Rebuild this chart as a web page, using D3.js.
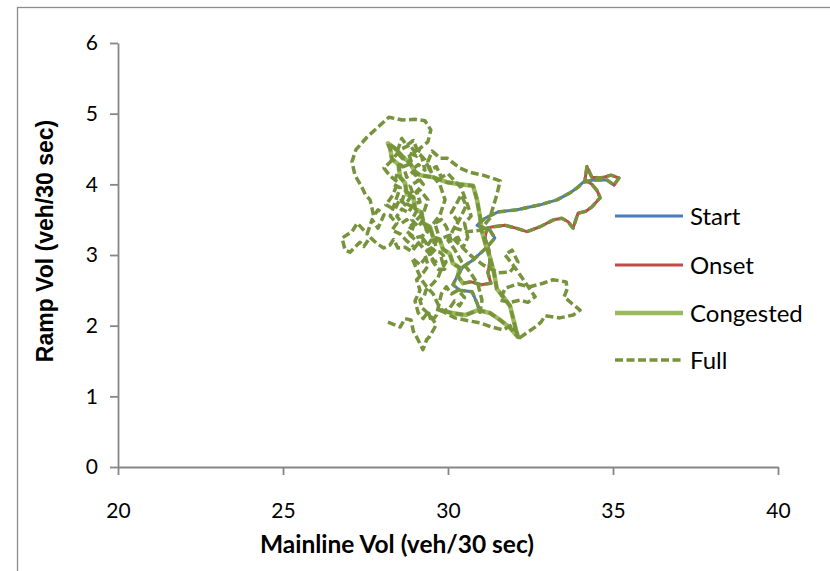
<!DOCTYPE html>
<html>
<head>
<meta charset="utf-8">
<script src="https://cdn.jsdelivr.net/npm/d3@7"></script>
<style>
  body { margin: 0; background: #fff; }
  svg { display: block; }
</style>
</head>
<body>
<svg id="chart" width="830" height="571"></svg>
<script>
// Axis ticks
const xTicks = [20, 25, 30, 35, 40];
const yTicks = [0, 1, 2, 3, 4, 5, 6];

// Legend entries, in drawing order
const seriesNames = ["Start", "Onset", "Congested", "Full"];

// [mainline vol, ramp vol] pairs, veh/30 sec
const fullLead = [
  [28.18,2.05],[28.55,1.98],[28.70,2.10],[28.88,2.08],[28.95,1.92],[29.06,1.83],[29.24,1.66],
  [29.35,1.80],[29.45,1.85],[29.64,2.01],[29.50,2.12],[29.36,2.19],[29.22,2.25],[29.15,2.36],
  [29.28,2.42],[29.33,2.50],[29.55,2.60],[29.70,2.68],[29.76,2.76],[29.94,2.90],[29.85,3.00],
  [29.76,3.04],[29.45,3.07],[29.30,3.20],[29.09,3.16],[28.90,3.05],[28.70,3.11],[28.48,3.10],
  [28.35,3.22],[28.24,3.14],[28.05,3.10],[27.85,3.16],[27.64,3.25],[27.45,3.12],[27.33,3.18],
  [27.03,3.04],[26.88,3.07],[26.79,3.24],[27.09,3.33],[27.25,3.45],[27.39,3.38],[27.55,3.30],
  [27.70,3.50],[27.88,3.38],[28.06,3.57],[27.88,3.64],[27.75,3.55],[27.64,3.78],[27.50,3.85],
  [27.39,3.96],[27.18,4.13],[27.09,4.32],[27.21,4.49],[27.55,4.67],[27.88,4.81],[28.21,4.95],
  [28.61,4.91],[29.00,4.92],[29.30,4.90],[29.48,4.77],[29.39,4.60],[29.15,4.51],
  [29.05,4.40],[28.80,4.45],[28.90,4.30],[28.65,4.25],[28.75,4.10],[28.95,4.18],[29.10,4.05],
  [28.85,3.98],[28.95,3.85],[28.70,3.90],[28.60,3.75],[28.85,3.70],[29.05,3.62],[28.90,3.50],
  [29.10,3.40],[29.25,3.50],[29.35,3.35],[29.20,3.25],[29.40,3.15],[29.55,3.25],[29.65,3.10],
  [29.45,3.00],[29.60,2.90],[29.80,2.95],[29.90,2.80],[29.70,2.80],[29.55,2.90],[29.40,3.05],
  [29.25,3.10],[29.05,3.20],[28.85,3.28],[28.95,3.40],[28.75,3.50],[28.60,3.45],[28.45,3.55],
  [28.60,3.65],[28.80,3.60],[28.95,3.72],[29.15,3.75],[29.05,3.90],[29.25,4.00],[29.05,4.12],
  [28.90,4.20],[29.10,4.28],[29.30,4.20],[29.20,4.40],[29.00,4.45],
  [28.85,4.56],[28.55,4.49],[28.30,4.34],[28.06,4.23],[28.24,4.12],[28.48,4.03],[28.33,3.85],
  [28.12,3.71],[28.39,3.64],[28.55,3.80],[28.70,3.71],[28.91,3.85],[29.15,3.92],[29.39,3.78],
  [29.27,3.61],[29.00,3.47],[28.76,3.33],[29.00,3.24],[29.30,3.28],[29.52,3.42],[29.76,3.57],
  [29.91,3.78],[29.76,3.99],[29.52,4.13],[29.39,4.32],[29.52,4.47],[29.76,4.37],[29.97,4.37],
  [30.36,4.23],[30.67,4.17],[31.06,4.13],[31.58,4.05],[31.48,3.85],[31.36,3.67],[31.27,3.52],
  [30.97,3.35],[30.58,3.33],[30.21,3.38],
  [30.40,3.55],[30.55,3.70],[30.40,3.85],[30.25,3.72],[30.10,3.60],[30.30,3.48],[30.15,3.35],
  [30.00,3.21],[30.21,3.07],[30.42,2.90],[30.67,2.76],[30.91,2.58],[31.03,2.36],[30.97,2.19]
];

const startPts = [
  [30.97,2.19],[30.88,2.32],[30.73,2.48],[30.36,2.50],[30.15,2.58],[30.27,2.69],[30.45,2.83],
  [30.76,2.93],[31.18,3.11],[31.42,3.24],[31.27,3.35],[30.88,3.42],[31.12,3.52],[31.52,3.61],
  [32.09,3.64],[32.79,3.71],[33.30,3.78],[33.70,3.88],[33.94,3.96],[34.09,4.03],[34.39,4.06],
  [34.82,4.06],[35.03,3.99]
];

const onsetPts = [
  [35.03,3.99],[35.18,4.09],[34.94,4.13],[34.64,4.09],[34.36,4.10],[34.21,4.25],[34.15,4.06],
  [34.36,4.00],[34.52,3.91],[34.61,3.81],[34.36,3.68],[34.18,3.62],[33.94,3.59],[33.79,3.38],
  [33.64,3.47],[33.45,3.52],[33.21,3.50],[32.79,3.40],[32.39,3.33],[32.06,3.38],[31.73,3.42],
  [31.36,3.40],[31.18,3.38],[31.12,3.24],[31.24,3.07],[31.27,2.90],[31.21,2.75],[31.30,2.60],
  [31.00,2.58],[30.70,2.62],[30.45,2.60]
];

const congestedPts = [
  [30.45,2.60],[30.30,2.70],[30.35,2.82],[30.15,2.88],[30.05,3.02],[29.85,3.08],[29.75,3.22],
  [29.55,3.25],[29.45,3.40],[29.25,3.45],[29.20,3.60],[29.00,3.66],[28.95,3.82],[28.75,3.86],
  [28.70,4.02],[28.55,4.10],[28.50,4.28],[28.30,4.36],[28.25,4.50],[28.18,4.58],[28.39,4.51],
  [28.61,4.40],[28.85,4.30],[29.00,4.18],[29.15,4.13],[29.55,4.10],[29.97,4.03],[30.36,4.00],
  [30.76,3.98],[30.88,3.78],[30.97,3.54],[31.03,3.33],[31.15,3.13],[31.27,2.97],[31.39,2.76],
  [31.48,2.52],[31.67,2.41],[31.88,2.28],[31.97,2.11],[32.06,1.94],[32.12,1.84],[31.88,1.97],
  [31.58,2.08],[31.27,2.18],[30.91,2.22],[30.52,2.15],[30.12,2.18],[29.76,2.22]
];

const fullTail = [
  [29.76,2.22],[30.21,2.11],[30.61,2.07],[30.97,2.04],[31.33,1.98],[31.67,1.94],[31.94,2.01],
  [32.18,1.83],[32.39,1.90],[32.64,1.98],[32.82,2.05],[32.94,2.14],[33.39,2.11],[33.79,2.15],
  [34.00,2.22],[33.76,2.31],[33.52,2.41],[33.61,2.52],[33.58,2.62],[33.18,2.65],[32.88,2.60],
  [32.48,2.55],[32.12,2.59],[31.73,2.53],[31.58,2.36],[31.88,2.33],[32.18,2.36],[32.42,2.33],
  [32.64,2.41],[32.18,2.72],[31.97,2.86],[31.73,3.00],[31.94,3.07],[32.12,2.90],[31.88,2.76],
  [31.52,2.75],[31.06,2.86],[30.67,3.00],[30.36,3.14],[30.06,3.28],[29.67,3.21],[29.39,3.00],
  [29.15,2.86],[28.91,2.96],[29.05,2.80],[29.20,2.65],[29.35,2.55],[29.55,2.45],[29.70,2.30],
  [29.85,2.20],[30.05,2.25],[30.20,2.35],[30.35,2.28],[30.50,2.40],[30.30,2.50],[30.10,2.45],
  [29.95,2.55],[29.80,2.45],[29.65,2.15],[29.50,2.05],[29.40,2.20],[29.25,2.10],[29.10,2.18],
  [29.00,2.35],[29.15,2.50],[29.05,2.65],[29.25,2.75],[29.40,2.85],[29.30,3.00],[29.50,3.10],
  [29.70,3.30],[29.60,3.45],[29.80,3.50],[29.95,3.40],[30.10,3.20],[30.30,3.25],[30.45,3.10],
  [30.60,3.25],[30.50,3.45],[30.70,3.55],[30.60,3.70],[30.40,3.95],[30.20,4.05],[30.00,4.15],
  [29.80,4.10],[29.65,4.25],[29.45,4.20],[29.30,4.35],[29.10,4.45],[28.95,4.62],[28.75,4.55],
  [28.60,4.65],[28.45,4.45],[28.65,4.35],[28.50,4.20],[28.35,4.00],[28.55,3.95],[28.40,3.75],
  [28.25,3.55],[28.45,3.45],[28.30,3.35],[28.55,3.30],[28.75,3.20],[28.95,3.12]
];

// The full run is the lead-in, the three phases, and the trailing part, joined end to end
const fullPts = fullLead.concat(
  startPts.slice(1), onsetPts.slice(1), congestedPts.slice(1), fullTail.slice(1)
);

const styles = {
  Start:     { color: "#4A7EBB", width: 3,   dash: null },
  Onset:     { color: "#BE4B48", width: 3,   dash: null },
  Congested: { color: "#9BBB59", width: 4.5, dash: null },
  Full:      { color: "#77933C", width: 3.5, dash: "8,3.5" }
};
const seriesData = { Start: startPts, Onset: onsetPts, Congested: congestedPts, Full: fullPts };

const svg = d3.select("#chart");

// Outer chart frame
svg.append("rect")
  .attr("x", 17.5).attr("y", 7.5)
  .attr("width", 830).attr("height", 580)
  .attr("fill", "#fff")
  .attr("stroke", "#8c8c8c").attr("stroke-width", 1.3);

const x = d3.scaleLinear().domain([20, 40]).range([118, 778]);
const y = d3.scaleLinear().domain([0, 6]).range([467, 43]);

const tickFont = "Lato, 'Open Sans', sans-serif";
const axisColor = "#868686";

const xAxis = svg.append("g")
  .attr("transform", "translate(0,467)")
  .call(d3.axisBottom(x).tickValues(xTicks).tickFormat(d3.format("d"))
    .tickSize(8).tickSizeOuter(0).tickPadding(28));

const yAxis = svg.append("g")
  .attr("transform", "translate(118,0)")
  .call(d3.axisLeft(y).tickValues(yTicks).tickFormat(d3.format("d"))
    .tickSize(8).tickSizeOuter(0).tickPadding(12));

[xAxis, yAxis].forEach(g => {
  g.select(".domain").attr("stroke", axisColor).attr("stroke-width", 1.8);
  g.selectAll(".tick line").attr("stroke", axisColor).attr("stroke-width", 1.8);
  g.selectAll(".tick text")
    .attr("fill", "#000")
    .style("font-family", tickFont)
    .style("font-size", "21px");
});

// Series lines
const line = d3.line().x(d => x(d[0])).y(d => y(d[1]));
const plot = svg.append("g");
seriesNames.forEach(name => {
  const s = styles[name];
  plot.append("path")
    .datum(seriesData[name])
    .attr("d", line)
    .attr("fill", "none")
    .attr("stroke", s.color)
    .attr("stroke-width", s.width)
    .attr("stroke-linejoin", "round")
    .attr("stroke-linecap", s.dash ? "butt" : "round")
    .attr("stroke-dasharray", s.dash);
});

// Legend
const legend = svg.append("g");
const rowY = [216, 265, 313, 360];
seriesNames.forEach((name, i) => {
  const s = styles[name];
  legend.append("line")
    .attr("x1", 615).attr("x2", 683)
    .attr("y1", rowY[i]).attr("y2", rowY[i])
    .attr("stroke", s.color)
    .attr("stroke-width", s.width)
    .attr("stroke-dasharray", s.dash);
  legend.append("text")
    .attr("x", 690).attr("y", rowY[i] + 9)
    .style("font-family", tickFont)
    .style("font-size", "24px")
    .text(name);
});

// Axis titles
svg.append("text")
  .attr("x", 397).attr("y", 553)
  .attr("text-anchor", "middle")
  .style("font-family", tickFont)
  .style("font-weight", "bold")
  .style("font-size", "24.5px")
  .text("Mainline Vol (veh/30 sec)");

svg.append("text")
  .attr("transform", "translate(53,241) rotate(-90)")
  .attr("text-anchor", "middle")
  .style("font-family", "'Liberation Sans', Arial, sans-serif")
  .style("font-weight", "bold")
  .style("font-size", "23px")
  .text("Ramp Vol (veh/30 sec)");
</script>
</body>
</html>
